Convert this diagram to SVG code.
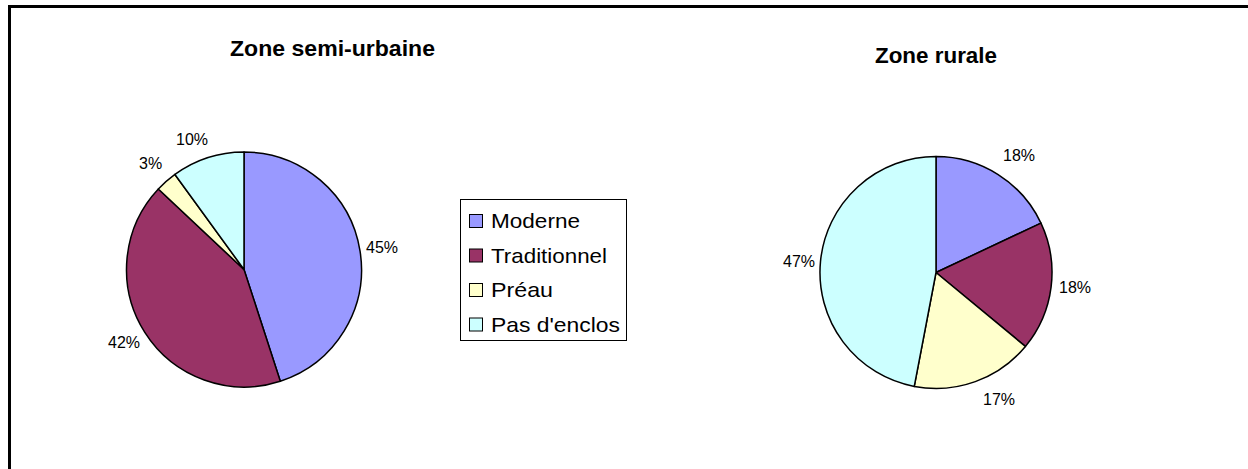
<svg xmlns="http://www.w3.org/2000/svg" width="1248" height="469" viewBox="0 0 1248 469">
<style>
.title{font-family:"Liberation Sans",Arial,sans-serif;font-weight:bold;font-size:22px;fill:#000}
.pct{font-family:"Liberation Sans",Arial,sans-serif;font-size:16px;fill:#000}
.leg{font-family:"Liberation Sans",Arial,sans-serif;font-size:21px;fill:#000}
.sl{stroke:#000;stroke-width:1.5;stroke-linejoin:round}
.sw{stroke:#000;stroke-width:1}
.c1{fill:#9999FF}.c2{fill:#993366}.c3{fill:#FFFFCC}.c4{fill:#CCFFFF}
</style>
<rect width="1248" height="469" fill="#fff"/>
<path d="M9.5,469 V6.5 H1248" fill="none" stroke="#000" stroke-width="3"/>

<g id="chart-semi-urbaine">
<text class="title" x="230" y="56" textLength="205" lengthAdjust="spacingAndGlyphs">Zone semi-urbaine</text>
<path class="sl c1" d="M244,269.5 L244,152 A117.5,117.5 0 0 1 280.31,381.25 Z"/>
<path class="sl c2" d="M244,269.5 L280.31,381.25 A117.5,117.5 0 0 1 158.35,189.07 Z"/>
<path class="sl c3" d="M244,269.5 L158.35,189.07 A117.5,117.5 0 0 1 174.93,174.44 Z"/>
<path class="sl c4" d="M244,269.5 L174.93,174.44 A117.5,117.5 0 0 1 244,152 Z"/>
<text class="pct" x="366" y="253">45%</text>
<text class="pct" x="108" y="348">42%</text>
<text class="pct" x="139" y="169">3%</text>
<text class="pct" x="176" y="145">10%</text>
</g>

<g id="legend">
<rect x="460.5" y="199.5" width="166" height="141" fill="#fff" stroke="#000" stroke-width="1"/>
<rect class="sw c1" x="469.5" y="214.5" width="13" height="13"/>
<text class="leg" x="491" y="228" textLength="89" lengthAdjust="spacingAndGlyphs">Moderne</text>
<rect class="sw c2" x="469.5" y="249" width="13" height="13"/>
<text class="leg" x="491" y="262.5" textLength="116" lengthAdjust="spacingAndGlyphs">Traditionnel</text>
<rect class="sw c3" x="469.5" y="283.5" width="13" height="13"/>
<text class="leg" x="491" y="297" textLength="62" lengthAdjust="spacingAndGlyphs">Préau</text>
<rect class="sw c4" x="469.5" y="318" width="13" height="13"/>
<text class="leg" x="491" y="331.5" textLength="129" lengthAdjust="spacingAndGlyphs">Pas d'enclos</text>
</g>

<g id="chart-rurale">
<text class="title" x="875" y="63" textLength="122" lengthAdjust="spacingAndGlyphs">Zone rurale</text>
<path class="sl c1" d="M936,272.5 L936,156.5 A116,116 0 0 1 1040.96,223.11 Z"/>
<path class="sl c2" d="M936,272.5 L1040.96,223.11 A116,116 0 0 1 1025.38,346.44 Z"/>
<path class="sl c3" d="M936,272.5 L1025.38,346.44 A116,116 0 0 1 914.26,386.45 Z"/>
<path class="sl c4" d="M936,272.5 L914.26,386.45 A116,116 0 0 1 936,156.5 Z"/>
<text class="pct" x="1003" y="161">18%</text>
<text class="pct" x="1059" y="293">18%</text>
<text class="pct" x="983" y="405">17%</text>
<text class="pct" x="783" y="267">47%</text>
</g>
</svg>
